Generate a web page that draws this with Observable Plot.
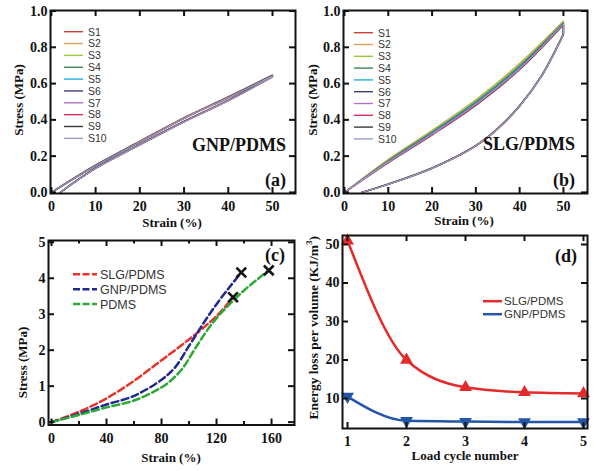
<!DOCTYPE html>
<html><head><meta charset="utf-8">
<script src="https://cdn.jsdelivr.net/npm/d3@7"></script>
<script src="https://cdn.jsdelivr.net/npm/@observablehq/plot@0.6"></script>
<style>
body{margin:0;background:#fff}
#fig{position:relative;width:600px;height:471px;overflow:hidden;background:#fff}
</style></head><body><div id="fig"></div>
<script>
// ---------- data ----------
const samples = ["S1","S2","S3","S4","S5","S6","S7","S8","S9","S10"];
const sampleColors = ["#cc3f3a","#e3a25c","#9cc83a","#3b8a52","#1eb0e0","#3d3d78","#b272c2","#d92c60","#3a3a3a","#9c9cc4"];
const strainLoad = [0,10,20,30,40,50];
const strainUnloadA = [50,40,30,20,10,2];
const strainUnloadB = [50,45,40,35,30,20,10,4];
const gnpLoad = [
  [0,0.152,0.283,0.413,0.528,0.648],
  [0,0.150,0.281,0.411,0.526,0.646],
  [0,0.150,0.280,0.410,0.525,0.645],
  [0,0.149,0.280,0.410,0.525,0.645],
  [0,0.149,0.279,0.409,0.524,0.644],
  [0,0.148,0.279,0.409,0.524,0.644],
  [0,0.148,0.278,0.408,0.523,0.643],
  [0,0.147,0.278,0.408,0.523,0.643],
  [0,0.148,0.279,0.409,0.524,0.644],
  [0,0.147,0.278,0.408,0.523,0.643]
];
const gnpUnload = [
  [0.642,0.510,0.393,0.266,0.136,0],
  [0.640,0.509,0.392,0.265,0.135,0],
  [0.640,0.508,0.391,0.265,0.135,0],
  [0.639,0.508,0.391,0.264,0.134,0],
  [0.639,0.507,0.390,0.264,0.134,0],
  [0.638,0.507,0.390,0.263,0.133,0],
  [0.638,0.506,0.389,0.263,0.133,0],
  [0.637,0.506,0.389,0.262,0.132,0],
  [0.638,0.507,0.390,0.263,0.133,0],
  [0.637,0.506,0.389,0.262,0.132,0]
];
const slgLoad = [
  [0,0.168,0.322,0.487,0.680,0.925],
  [0,0.182,0.342,0.512,0.712,0.945],
  [0,0.179,0.338,0.507,0.706,0.940],
  [0,0.175,0.333,0.500,0.698,0.936],
  [0,0.172,0.329,0.495,0.692,0.933],
  [0,0.170,0.326,0.491,0.688,0.931],
  [0,0.169,0.324,0.489,0.685,0.930],
  [0,0.163,0.316,0.480,0.676,0.924],
  [0,0.166,0.320,0.484,0.680,0.927],
  [0,0.167,0.321,0.486,0.682,0.929]
];
const slgUnload = [
  [0.872,0.642,0.477,0.352,0.258,0.134,0.046,0],
  [0.876,0.645,0.480,0.355,0.260,0.136,0.047,0],
  [0.875,0.644,0.479,0.354,0.259,0.135,0.047,0],
  [0.874,0.644,0.478,0.353,0.259,0.135,0.046,0],
  [0.873,0.643,0.478,0.353,0.258,0.134,0.046,0],
  [0.872,0.642,0.477,0.352,0.258,0.134,0.046,0],
  [0.872,0.642,0.477,0.352,0.257,0.133,0.045,0],
  [0.870,0.640,0.475,0.350,0.256,0.132,0.045,0],
  [0.871,0.641,0.476,0.351,0.257,0.133,0.045,0],
  [0.871,0.641,0.476,0.351,0.257,0.133,0.045,0]
];
const stressTicksAB = [0,0.2,0.4,0.6,0.8,1.0];
const strainTicksAB = [0,10,20,30,40,50];

const materials = ["SLG/PDMS","GNP/PDMS","PDMS"];
const materialColors = ["#e8322c","#1f2a8c","#2ea836"];
const slgTensileStrain = [0,20,40,60,80,100,120,132];
const slgTensileStress = [0,0.29,0.66,1.15,1.72,2.3,2.95,3.47];
const gnpTensileStrain = [0,20,40,60,80,90,100,110,120,130,138];
const gnpTensileStress = [0,0.23,0.49,0.73,1.18,1.53,2.12,2.72,3.28,3.78,4.16];
const pdmsTensileStrain = [0,20,40,60,75,85,95,105,115,125,140,150,158];
const pdmsTensileStress = [0,0.2,0.41,0.6,0.86,1.1,1.48,2.08,2.65,3.1,3.66,3.98,4.22];
const strainTicksC = [0,40,80,120,160];
const strainMinorC = [20,60,100,140];
const stressTicksC = [0,1,2,3,4,5];

const cycles = [1,2,3,4,5];
const slgEnergy = [51,20,12.9,11.6,11.3];
const gnpEnergy = [10.5,4.2,4.0,3.9,3.9];
const energyTicks = [10,20,30,40,50];

// ---------- helpers ----------
const fig = document.getElementById("fig");
const INK = "#111";
const SERIF = "'Liberation Serif','Times New Roman',serif";
const SANS = "'Liberation Sans',Arial,sans-serif";
function place(plot, left, top) {
  plot.style.position = "absolute";
  plot.style.left = left + "px";
  plot.style.top = top + "px";
  fig.appendChild(plot);
}
function framed(o) {
  const pw = o.width - o.ml - o.mr, ph = o.height - o.mt - o.mb;
  const T = 6, t = 3.5;
  const ts = {stroke: INK, strokeWidth: 2};
  const font = {fontFamily: SERIF, fontWeight: "bold", fontSize: 14, fill: INK};
  const marks = [...o.marks,
    Plot.tickY(o.yTicks, {y: d => d, insetRight: pw - T, ...ts}),
    Plot.tickY(o.yTicks, {y: d => d, insetLeft: pw - T, ...ts}),
    Plot.tickX(o.xTicks, {x: d => d, insetTop: ph - T, ...ts}),
    Plot.tickX(o.xTicks, {x: d => d, insetBottom: ph - T, ...ts})
  ];
  if (o.xMinor) marks.push(
    Plot.tickX(o.xMinor, {x: d => d, insetTop: ph - t, ...ts}),
    Plot.tickX(o.xMinor, {x: d => d, insetBottom: ph - t, ...ts}));
  marks.push(
    Plot.frame({stroke: INK, strokeWidth: 2}),
    Plot.axisX(o.xTicks, {tickSize: 0, tickPadding: o.xPad ?? 8, tickFormat: o.xFormat, label: null, ...font}),
    Plot.axisY(o.yTicks, {tickSize: 0, tickPadding: 3, tickFormat: o.yFormat, label: null, ...font}));
  return Plot.plot({
    width: o.width, height: o.height,
    marginLeft: o.ml, marginRight: o.mr, marginTop: o.mt, marginBottom: o.mb,
    style: {background: "transparent", overflow: "visible", fontFamily: SERIF, fontWeight: "bold", fontSize: "14px", color: INK},
    x: {domain: o.xDomain}, y: {domain: o.yDomain},
    marks
  });
}
function hysteresisRows(load, unload, unloadStrain) {
  const rows = [];
  samples.forEach((s, i) => {
    strainLoad.forEach((x, j) => rows.push({sample: s, part: "load", strain: x, stress: load[i][j]}));
    unloadStrain.forEach((x, j) => rows.push({sample: s, part: "unload", strain: x, stress: unload[i][j]}));
  });
  return rows;
}
const colorOf = s => sampleColors[samples.indexOf(s)];

// ---------- (a) ----------
const rowsA = hysteresisRows(gnpLoad, gnpUnload, strainUnloadA);
place(framed({
  width: 300, height: 235, ml: 50, mr: 5, mt: 10, mb: 42,
  xDomain: [-0.2, 55.2], yDomain: [-0.006, 1.003],
  xTicks: strainTicksAB, yTicks: stressTicksAB, yFormat: d3.format(".1f"),
  marks: [Plot.line(rowsA, {x: "strain", y: "stress", z: d => d.sample + d.part, stroke: d => colorOf(d.sample), strokeWidth: 1.3, curve: "catmull-rom"})]
}), 0, 0);

// ---------- (b) ----------
const rowsB = hysteresisRows(slgLoad, slgUnload, strainUnloadB);
const peaksB = samples.map((s, i) => ({sample: s, x: 50, y1: slgLoad[i][slgLoad[i].length - 1], y2: slgUnload[i][0]}));
place(framed({
  width: 300, height: 235, ml: 43, mr: 13, mt: 10, mb: 42,
  xDomain: [-0.23, 55.5], yDomain: [-0.006, 1.003],
  xTicks: strainTicksAB, yTicks: stressTicksAB, yFormat: d3.format(".1f"),
  marks: [
    Plot.line(rowsB, {x: "strain", y: "stress", z: d => d.sample + d.part, stroke: d => colorOf(d.sample), strokeWidth: 1.3, curve: "catmull-rom"}),
    Plot.link(peaksB, {x1: "x", x2: "x", y1: "y1", y2: "y2", stroke: d => colorOf(d.sample), strokeWidth: 1.3})
  ]
}), 300, 0);

// ---------- (c) ----------
const tensile = [[slgTensileStrain, slgTensileStress], [gnpTensileStrain, gnpTensileStress], [pdmsTensileStrain, pdmsTensileStress]];
const rowsC = [];
materials.forEach((m, i) => tensile[i][0].forEach((x, j) => rowsC.push({material: m, strain: x, stress: tensile[i][1][j]})));
const breaksC = materials.map((m, i) => ({material: m, strain: tensile[i][0].at(-1), stress: tensile[i][1].at(-1)}));
place(framed({
  width: 300, height: 236, ml: 48, mr: 6, mt: 5, mb: 46.5,
  xDomain: [-2.2, 176.7], yDomain: [-0.08, 5.05],
  xTicks: strainTicksC, xMinor: strainMinorC, yTicks: stressTicksC, xPad: 8.5,
  marks: [
    Plot.line(rowsC, {x: "strain", y: "stress", z: "material", stroke: d => materialColors[materials.indexOf(d.material)],
      strokeWidth: 2.5, strokeDasharray: "7,3.5", curve: "catmull-rom"}),
    Plot.dot(breaksC, {x: "strain", y: "stress", symbol: "times", r: 4.5, stroke: INK, strokeWidth: 2.6})
  ]
}), 0, 235);

// ---------- (d) ----------
const RED = "#e32b2b", BLUE = "#2356a5";
const slgRows = cycles.map((c, i) => ({cycle: c, energy: slgEnergy[i]}));
const gnpRows = cycles.map((c, i) => ({cycle: c, energy: gnpEnergy[i]}));
place(framed({
  width: 300, height: 236, ml: 42, mr: 13, mt: 0, mb: 43,
  xDomain: [0.915, 5.068], yDomain: [2.21, 52.34],
  xTicks: cycles, yTicks: energyTicks, xPad: 8,
  marks: [
    Plot.line(slgRows, {x: "cycle", y: "energy", stroke: RED, strokeWidth: 2.5, curve: "monotone-x"}),
    Plot.line(gnpRows, {x: "cycle", y: "energy", stroke: BLUE, strokeWidth: 2.5, curve: "monotone-x"}),
    Plot.dot(slgRows, {x: "cycle", y: "energy", symbol: "triangle", r: 4.8, fill: RED}),
    Plot.dot(gnpRows, {x: "cycle", y: "energy", symbol: "triangle", r: 4.8, fill: BLUE, rotate: 180})
  ]
}), 300, 235);

// ---------- annotations, axis titles, legends ----------
const ov = d3.select(fig).append("svg").attr("width", 600).attr("height", 471)
  .style("position", "absolute").style("left", "0px").style("top", "0px").style("pointer-events", "none");
function txt(x, y, s, size, opts = {}) {
  const t = ov.append("text").attr("x", x).attr("y", y).text(s)
    .attr("font-family", opts.sans ? SANS : SERIF).attr("font-weight", opts.sans ? "normal" : "bold")
    .attr("font-size", size).attr("fill", opts.fill || INK).attr("text-anchor", opts.anchor || "start");
  if (opts.rotate) t.attr("transform", `rotate(-90 ${x} ${y})`);
  return t;
}
// panel labels
txt(192, 151, "GNP/PDMS", 18);
txt(265, 186, "(a)", 18);
txt(483, 150, "SLG/PDMS", 18);
txt(553, 186, "(b)", 18);
txt(265, 261, "(c)", 18);
txt(555, 262, "(d)", 18);
// axis titles
txt(172, 226.5, "Strain (%)", 13, {anchor: "middle"});
txt(464, 225, "Strain (%)", 13, {anchor: "middle"});
txt(171, 462, "Strain (%)", 13, {anchor: "middle"});
txt(465, 460, "Load cycle number", 13, {anchor: "middle"});
txt(23.2, 100, "Stress (MPa)", 13, {anchor: "middle", rotate: true});
txt(317, 100, "Stress (MPa)", 13, {anchor: "middle", rotate: true});
txt(27, 362.5, "Stress (MPa)", 13, {anchor: "middle", rotate: true});
const el = txt(317.5, 419.5, "Energy loss per volume (KJ/m", 13.5, {rotate: true});
el.append("tspan").attr("font-size", 9).attr("dy", -6).text("3");
el.append("tspan").attr("dy", 6).text(")");
// legends (a)(b)
function sampleLegend(x0, y0, step) {
  samples.forEach((s, i) => {
    const y = y0 + i * step;
    ov.append("line").attr("x1", x0).attr("x2", x0 + 19).attr("y1", y).attr("y2", y)
      .attr("stroke", sampleColors[i]).attr("stroke-width", 1.4);
    txt(x0 + 24, y + 3.8, s, 10.5, {sans: true, fill: "#333"});
  });
}
sampleLegend(64, 31.7, 11.85);
sampleLegend(354, 32.7, 11.8);
// legend (c)
materials.forEach((m, i) => {
  const y = 274.3 + i * 14.9;
  ov.append("line").attr("x1", 73).attr("x2", 97).attr("y1", y).attr("y2", y)
    .attr("stroke", materialColors[i]).attr("stroke-width", 2.5).attr("stroke-dasharray", "7,2.5");
  txt(100, y + 4.4, m, 12.5, {sans: true, fill: "#333"});
});
// legend (d)
[["SLG/PDMS", RED], ["GNP/PDMS", BLUE]].forEach(([m, c], i) => {
  const y = 301.2 + i * 13;
  ov.append("line").attr("x1", 483).attr("x2", 502).attr("y1", y).attr("y2", y).attr("stroke", c).attr("stroke-width", 2.5);
  txt(504, y + 4.1, m, 11.5, {sans: true, fill: "#333"});
});
</script></body></html>
